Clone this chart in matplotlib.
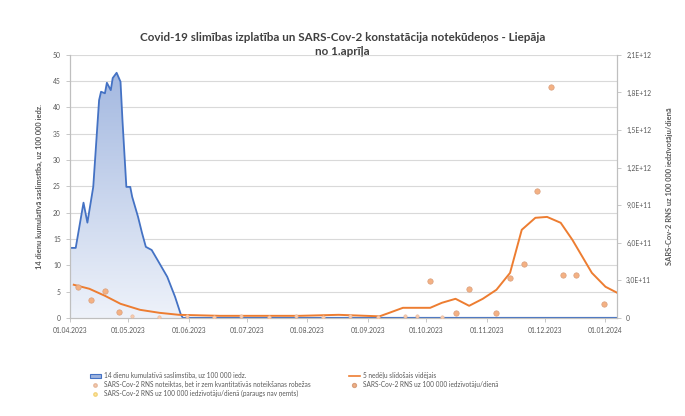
import numpy as np
import pandas as pd
import matplotlib
matplotlib.use("Agg")
import matplotlib.pyplot as plt
import matplotlib.dates as mdates
from matplotlib.colors import LinearSegmentedColormap
from matplotlib.lines import Line2D
from matplotlib.patches import Patch

plt.rcParams['font.family'] = ['Lato', 'DejaVu Sans']

# 14 dienu kumulativa saslimstiba (kreisa ass)
blue_dates = ["2023-04-01", "2023-04-04", "2023-04-08", "2023-04-10", "2023-04-13", "2023-04-16",
              "2023-04-17", "2023-04-19", "2023-04-20", "2023-04-22", "2023-04-23", "2023-04-25",
              "2023-04-27", "2023-04-28", "2023-04-30", "2023-05-02", "2023-05-03", "2023-05-06",
              "2023-05-08", "2023-05-10", "2023-05-13", "2023-05-16", "2023-05-21", "2023-05-25",
              "2023-05-28", "2023-05-29", "2023-07-01", "2023-10-01", "2024-01-07"]
blue_vals = [13.3, 13.3, 21.9, 18.1, 24.9, 41.4, 43.0, 42.7, 44.7, 43.3, 45.6, 46.6,
             44.9, 37.6, 24.9, 24.9, 23.0, 19.2, 16.2, 13.5, 12.9, 11.0, 7.8, 4.0,
             0.6, 0.0, 0.0, 0.0, 0.0]

# 5 nedelu slidosais videjais (laba ass)
ma_dates = ["2023-04-03", "2023-04-11", "2023-04-19", "2023-04-27", "2023-05-07", "2023-05-17",
            "2023-05-27", "2023-06-17", "2023-07-07", "2023-07-28", "2023-08-17", "2023-09-07",
            "2023-09-12", "2023-09-19", "2023-10-03", "2023-10-09", "2023-10-16", "2023-10-23",
            "2023-10-30", "2023-11-06", "2023-11-13", "2023-11-19", "2023-11-26", "2023-12-02",
            "2023-12-09", "2023-12-15", "2023-12-25", "2024-01-01", "2024-01-07"]
ma_vals = [2.64e11, 2.32e11, 1.76e11, 1.12e11, 6.4e10, 4.0e10,
           2.4e10, 1.6e10, 1.6e10, 1.6e10, 2.4e10, 1.2e10,
           4.0e10, 8.0e10, 8.0e10, 1.2e11, 1.52e11, 9.6e10,
           1.52e11, 2.24e11, 3.59e11, 7.03e11, 7.99e11, 8.06e11,
           7.59e11, 6.23e11, 3.59e11, 2.48e11, 2.0e11]

# SARS-Cov-2 RNS uz 100 000 iedz./diena
rna_dates = ["2023-04-05", "2023-04-12", "2023-04-19", "2023-04-26", "2023-10-03", "2023-10-16",
             "2023-10-23", "2023-11-06", "2023-11-13", "2023-11-20", "2023-11-27", "2023-12-04",
             "2023-12-10", "2023-12-17", "2023-12-31"]
rna_vals = [2.48e11, 1.44e11, 2.16e11, 4.8e10, 2.95e11, 4.0e10,
            2.32e11, 4.0e10, 3.19e11, 4.31e11, 1.01e12, 1.84e12,
            3.43e11, 3.43e11, 1.12e11]

# zem kvantitativas noteiksanas robezas
low_dates = ["2023-05-03", "2023-05-17", "2023-05-31", "2023-06-14", "2023-06-28", "2023-07-12",
             "2023-07-26", "2023-08-09", "2023-08-23", "2023-09-06", "2023-09-20", "2023-09-26",
             "2023-10-09"]
low_vals = [1.5e10, 1.0e10, 1.5e10, 1.0e10, 1.5e10, 1.0e10,
            1.5e10, 1.0e10, 1.5e10, 1.0e10, 1.5e10, 1.5e10, 0.5e10]

left_ticks = [0, 5, 10, 15, 20, 25, 30, 35, 40, 45, 50]
right_ticks = [0, 3e11, 6e11, 9e11, 1.2e12, 1.5e12, 1.8e12, 2.1e12]
right_labels = ["0", "3,0E+11", "6,0E+11", "9,0E+11", "1,2E+12", "1,5E+12", "1,8E+12", "2,1E+12"]

bd = pd.to_datetime(blue_dates)
md = pd.to_datetime(ma_dates)
rd = pd.to_datetime(rna_dates)
ld = pd.to_datetime(low_dates)

fig = plt.figure(figsize=(6.85, 4.16), dpi=100)
ax = fig.add_axes([0.102, 0.236, 0.799, 0.632])
ax2 = ax.twinx()

tc = '#595959'
x0 = pd.Timestamp("2023-04-01")
x1 = pd.Timestamp("2024-01-07")

# zila laukuma ar gradientu
poly = ax.fill_between(bd, blue_vals, color='none', lw=0)
grad = np.linspace(0, 1, 256).reshape(-1, 1)
cm = LinearSegmentedColormap.from_list('b', ['#EEF2FA', '#A3B8E0'])
im = ax.imshow(grad, extent=[mdates.date2num(x0), mdates.date2num(x1), 0, 47],
               aspect='auto', origin='lower', cmap=cm, zorder=1)
im.set_clip_path(poly.get_paths()[0], ax.transData)
ax.plot(bd, blue_vals, color='#4472C4', lw=1.3, zorder=2)

ax.set_xlim(x0, x1)
ax.set_ylim(0, 50)
ax.set_yticks(left_ticks)
ax.grid(axis='y', color='#D9D9D9', lw=0.8)
ax.set_axisbelow(True)

ax2.plot(md, ma_vals, color='#ED7D31', lw=1.4, zorder=3)
ax2.scatter(rd, rna_vals, s=15, marker='o', facecolor='#F4B183', edgecolor='#D9A07E',
            lw=0.5, zorder=4)
ax2.scatter(ld, low_vals, s=6, marker='o', facecolor='#F8CBAD', edgecolor='#E6B89C',
            lw=0.4, zorder=4)
ax2.set_ylim(0, 2.1e12)
ax2.set_yticks(right_ticks)
ax2.set_yticklabels(right_labels)

ax.xaxis.set_major_locator(mdates.MonthLocator())
ax.xaxis.set_major_formatter(mdates.DateFormatter('%d.%m.%Y'))

for a in (ax, ax2):
    for s in a.spines.values():
        s.set_color('#BFBFBF')
        s.set_linewidth(0.8)
    a.spines['top'].set_visible(False)
    a.tick_params(labelsize=4.9, colors=tc, length=3, width=0.6, color='#BFBFBF')

ax.set_ylabel("14 dienu kumulatīvā saslimstība, uz 100 000 iedz.", fontsize=5.4, color=tc,
              fontweight='bold', labelpad=7)
ax2.set_ylabel("SARS-Cov-2 RNS uz 100 000 iedzīvotāju/dienā", fontsize=5.4, color=tc,
               fontweight='bold', labelpad=11)

fig.suptitle("Covid-19 slimības izplatība un SARS-Cov-2 konstatācija notekūdeņos - Liepāja\nno 1.aprīļa",
             fontsize=8.4, fontweight='bold', color='#404040', y=0.922, va='top', linespacing=1.25)

h_left = [Patch(facecolor='#9DB3DE', edgecolor='#4472C4', lw=0.8),
          Line2D([], [], ls='none', marker='o', ms=2.4, mfc='#F8CBAD', mec='#E6B89C'),
          Line2D([], [], ls='none', marker='o', ms=2.4, mfc='#FFE699', mec='#F2D27A')]
l_left = ["14 dienu kumulatīvā saslimstība, uz 100 000 iedz.",
          "SARS-Cov-2 RNS noteiktas, bet ir zem kvantitatīvās noteikšanas robežas",
          "SARS-Cov-2 RNS uz 100 000 iedzīvotāju/dienā (paraugs nav ņemts)"]
h_right = [Line2D([], [], color='#ED7D31', lw=1.2),
           Line2D([], [], ls='none', marker='o', ms=2.8, mfc='#F4B183', mec='#D9A07E')]
l_right = ["5 nedēļu slīdošais vidējais",
           "SARS-Cov-2 RNS uz 100 000 iedzīvotāju/dienā"]

for h, l, xx in ((h_left, l_left, 0.127), (h_right, l_right, 0.505)):
    fig.legend(h, l, loc='upper left', bbox_to_anchor=(xx, 0.113), frameon=False,
               fontsize=4.7, handlelength=1.6, handleheight=0.7, labelspacing=0.3,
               borderpad=0, handletextpad=0.5, labelcolor=tc)

fig.savefig("out.png", dpi=100)
